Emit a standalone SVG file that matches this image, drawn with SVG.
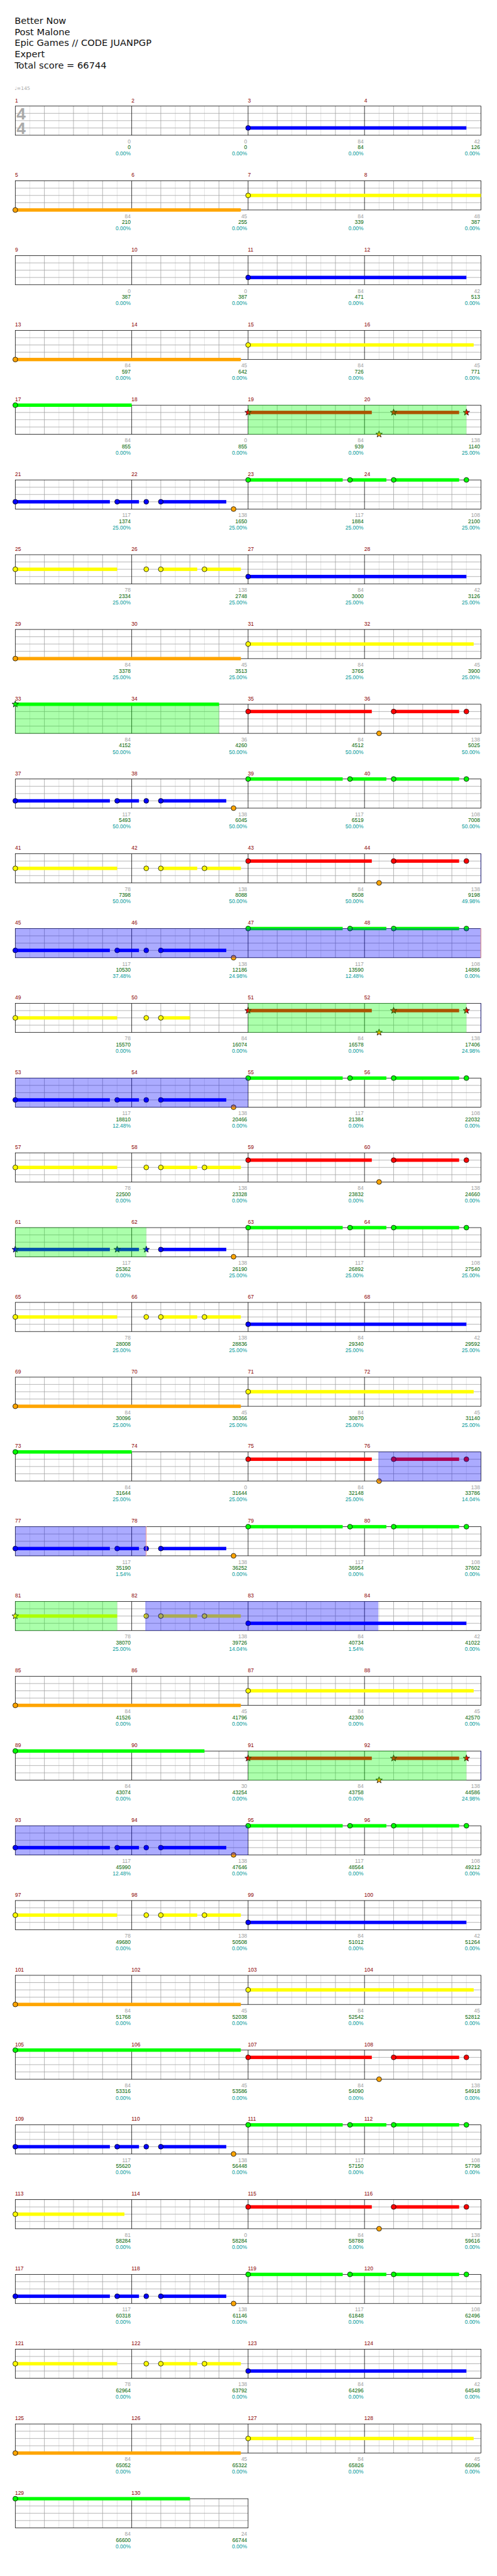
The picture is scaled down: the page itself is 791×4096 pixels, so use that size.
<svg xmlns="http://www.w3.org/2000/svg" xmlns:xlink="http://www.w3.org/1999/xlink" width="791" height="4096" viewBox="0 0 791 4096">
<style>
text{font-family:'Liberation Sans',Arial,sans-serif;font-size:11px}
.hd{font-family:'DejaVu Sans',Verdana,sans-serif;font-size:19px;fill:#111}
.ml{fill:#8b0000}
.g{fill:#a0a0a0;text-anchor:end}
.s{fill:#006400;text-anchor:end}
.p{fill:#009999;text-anchor:end}
.lt{stroke:#dcdcdc;stroke-width:1;fill:none}
.dk{stroke:#a0a0a0;stroke-width:1;fill:none}
.bk{stroke:#000;stroke-width:1;fill:none}
circle{stroke:#000;stroke-width:1}
.G{fill:#00ff00}.R{fill:#ff0000}.Y{fill:#ffff00}.B{fill:#0000ff}.O{fill:#ffa500}
.og{fill:#00ff00;fill-opacity:.33}
.ob{fill:#0000ff;fill-opacity:.33}
.pk{fill:#f0a0a0}
</style>
<defs>
<path id="star" d="M0-7L1.7-2.35L6.66-2.16L2.76 0.9L4.11 5.66L0 2.9L-4.11 5.66L-2.76 0.9L-6.66-2.16L-1.7-2.35Z" stroke="#000" stroke-width="1"/>
<g id="st4">
<rect x="31.5" y="0.5" width="960" height="60" fill="#fff"/>
<path class="lt" d="M61.5 0.5V60.5M121.5 0.5V60.5M181.5 0.5V60.5M241.5 0.5V60.5M301.5 0.5V60.5M361.5 0.5V60.5M421.5 0.5V60.5M481.5 0.5V60.5M541.5 0.5V60.5M601.5 0.5V60.5M661.5 0.5V60.5M721.5 0.5V60.5M781.5 0.5V60.5M841.5 0.5V60.5M901.5 0.5V60.5M961.5 0.5V60.5"/>
<path class="dk" d="M31.5 15.5H991.5M31.5 30.5H991.5M31.5 45.5H991.5M91.5 0.5V60.5M151.5 0.5V60.5M211.5 0.5V60.5M331.5 0.5V60.5M391.5 0.5V60.5M451.5 0.5V60.5M571.5 0.5V60.5M631.5 0.5V60.5M691.5 0.5V60.5M811.5 0.5V60.5M871.5 0.5V60.5M931.5 0.5V60.5"/>
<path class="bk" d="M271.5 0.5V60.5M511.5 0.5V60.5M751.5 0.5V60.5"/>
<rect class="bk" x="31.5" y="0.5" width="960" height="60"/>
</g>
<g id="st2">
<rect x="31.5" y="0.5" width="480" height="60" fill="#fff"/>
<path class="lt" d="M61.5 0.5V60.5M121.5 0.5V60.5M181.5 0.5V60.5M241.5 0.5V60.5M301.5 0.5V60.5M361.5 0.5V60.5M421.5 0.5V60.5M481.5 0.5V60.5"/>
<path class="dk" d="M31.5 15.5H511.5M31.5 30.5H511.5M31.5 45.5H511.5M91.5 0.5V60.5M151.5 0.5V60.5M211.5 0.5V60.5M331.5 0.5V60.5M391.5 0.5V60.5M451.5 0.5V60.5"/>
<path class="bk" d="M271.5 0.5V60.5"/>
<rect class="bk" x="31.5" y="0.5" width="480" height="60"/>
</g>
<g id="pAr">
<rect class="B" x="31.5" y="42" width="195" height="7"/>
<rect class="B" x="241.5" y="42" width="45" height="7"/>
<rect class="B" x="331.5" y="42" width="135" height="7"/>
</g>
<g id="pA">
<use href="#pAr"/>
<circle class="B" cx="31.5" cy="45.5" r="5"/>
<circle class="B" cx="241.5" cy="45.5" r="5"/>
<circle class="B" cx="301.5" cy="45.5" r="5"/>
<circle class="B" cx="331.5" cy="45.5" r="5"/>
<circle class="O" cx="481.5" cy="60.5" r="5"/>
</g>
<g id="pB">
<rect class="G" x="511.5" y="-3" width="195" height="7"/>
<rect class="G" x="721.5" y="-3" width="75" height="7"/>
<rect class="G" x="811.5" y="-3" width="135" height="7"/>
<circle class="G" cx="511.5" cy="0.5" r="5"/>
<circle class="G" cx="721.5" cy="0.5" r="5"/>
<circle class="G" cx="811.5" cy="0.5" r="5"/>
<circle class="G" cx="961.5" cy="0.5" r="5"/>
</g>
<g id="pCr">
<rect class="Y" x="31.5" y="27" width="210" height="7"/>
<rect class="Y" x="331.5" y="27" width="75" height="7"/>
<rect class="Y" x="421.5" y="27" width="75" height="7"/>
</g>
<g id="pC">
<use href="#pCr"/>
<circle class="Y" cx="31.5" cy="30.5" r="5"/>
<circle class="Y" cx="301.5" cy="30.5" r="5"/>
<circle class="Y" cx="331.5" cy="30.5" r="5"/>
<circle class="Y" cx="421.5" cy="30.5" r="5"/>
</g>
<g id="pDr">
<rect class="R" x="511.5" y="12" width="255" height="7"/>
<rect class="R" x="811.5" y="12" width="135" height="7"/>
</g>
<g id="pD">
<use href="#pDr"/>
<circle class="R" cx="511.5" cy="15.5" r="5"/>
<circle class="R" cx="811.5" cy="15.5" r="5"/>
<circle class="R" cx="961.5" cy="15.5" r="5"/>
<circle class="O" cx="781.5" cy="60.5" r="5"/>
</g>
<g id="pDs">
<use href="#pDr"/>
<use href="#star" class="R" x="511.5" y="15.5"/>
<use href="#star" class="R" x="811.5" y="15.5"/>
<use href="#star" class="R" x="961.5" y="15.5"/>
<use href="#star" class="O" x="781.5" y="60.5"/>
</g>
<g id="pE">
<rect class="O" x="31.5" y="57" width="465" height="7"/>
<circle class="O" cx="31.5" cy="60.5" r="5"/>
<rect class="Y" x="511.5" y="27" width="465" height="7"/>
<circle class="Y" cx="511.5" cy="30.5" r="5"/>
</g>
<g id="pF">
<rect class="B" x="511.5" y="42" width="450" height="7"/>
<circle class="B" cx="511.5" cy="45.5" r="5"/>
</g>
</defs>
<rect width="791" height="4096" fill="#fff"/>
<g transform="scale(0.772)">
<g id="header">
<text class="hd" x="30" y="49">Better Now</text>
<text class="hd" x="30" y="72">Post Malone</text>
<text class="hd" x="30" y="95">Epic Games // CODE JUANPGP</text>
<text class="hd" x="30" y="118">Expert</text>
<text class="hd" x="30" y="141">Total score = 66744</text>
<text x="30" y="185" style="font-family:'DejaVu Sans',sans-serif;font-size:10px;fill:#aaa">♩=145</text>
</g>
<g id="r1" transform="translate(0,218)">
<use href="#st4"/>
<text x="34" y="28.5" style="font-size:34px;font-weight:bold;fill:#aaa">4</text>
<text x="34" y="58" style="font-size:34px;font-weight:bold;fill:#aaa">4</text>
<use href="#pF"/>
<text class="ml" y="-7.5"><tspan x="31">1</tspan><tspan x="271">2</tspan><tspan x="511">3</tspan><tspan x="751">4</tspan></text>
<text class="g" y="77"><tspan x="269.5">0</tspan><tspan x="509.5">0</tspan><tspan x="749.5">84</tspan><tspan x="989.5">42</tspan></text>
<text class="s" y="89.5"><tspan x="269.5">0</tspan><tspan x="509.5">0</tspan><tspan x="749.5">84</tspan><tspan x="989.5">126</tspan></text>
<text class="p" y="102.5"><tspan x="269.5">0.00%</tspan><tspan x="509.5">0.00%</tspan><tspan x="749.5">0.00%</tspan><tspan x="989.5">0.00%</tspan></text>
</g>
<g id="r2" transform="translate(0,372)">
<use href="#st4"/>
<rect class="O" x="31.5" y="57" width="465" height="7"/>
<circle class="O" cx="31.5" cy="60.5" r="5"/>
<rect class="Y" x="511.5" y="27" width="480" height="7"/>
<circle class="Y" cx="511.5" cy="30.5" r="5"/>
<text class="ml" y="-7.5"><tspan x="31">5</tspan><tspan x="271">6</tspan><tspan x="511">7</tspan><tspan x="751">8</tspan></text>
<text class="g" y="77"><tspan x="269.5">84</tspan><tspan x="509.5">45</tspan><tspan x="749.5">84</tspan><tspan x="989.5">48</tspan></text>
<text class="s" y="89.5"><tspan x="269.5">210</tspan><tspan x="509.5">255</tspan><tspan x="749.5">339</tspan><tspan x="989.5">387</tspan></text>
<text class="p" y="102.5"><tspan x="269.5">0.00%</tspan><tspan x="509.5">0.00%</tspan><tspan x="749.5">0.00%</tspan><tspan x="989.5">0.00%</tspan></text>
</g>
<g id="r3" transform="translate(0,526)">
<use href="#st4"/>
<use href="#pF"/>
<text class="ml" y="-7.5"><tspan x="31">9</tspan><tspan x="271">10</tspan><tspan x="511">11</tspan><tspan x="751">12</tspan></text>
<text class="g" y="77"><tspan x="269.5">0</tspan><tspan x="509.5">0</tspan><tspan x="749.5">84</tspan><tspan x="989.5">42</tspan></text>
<text class="s" y="89.5"><tspan x="269.5">387</tspan><tspan x="509.5">387</tspan><tspan x="749.5">471</tspan><tspan x="989.5">513</tspan></text>
<text class="p" y="102.5"><tspan x="269.5">0.00%</tspan><tspan x="509.5">0.00%</tspan><tspan x="749.5">0.00%</tspan><tspan x="989.5">0.00%</tspan></text>
</g>
<g id="r4" transform="translate(0,680)">
<use href="#st4"/>
<use href="#pE"/>
<text class="ml" y="-7.5"><tspan x="31">13</tspan><tspan x="271">14</tspan><tspan x="511">15</tspan><tspan x="751">16</tspan></text>
<text class="g" y="77"><tspan x="269.5">84</tspan><tspan x="509.5">45</tspan><tspan x="749.5">84</tspan><tspan x="989.5">45</tspan></text>
<text class="s" y="89.5"><tspan x="269.5">597</tspan><tspan x="509.5">642</tspan><tspan x="749.5">726</tspan><tspan x="989.5">771</tspan></text>
<text class="p" y="102.5"><tspan x="269.5">0.00%</tspan><tspan x="509.5">0.00%</tspan><tspan x="749.5">0.00%</tspan><tspan x="989.5">0.00%</tspan></text>
</g>
<g id="r5" transform="translate(0,834)">
<use href="#st4"/>
<rect class="G" x="31.5" y="-3" width="240" height="7"/>
<circle class="G" cx="31.5" cy="0.5" r="5"/>
<use href="#pDs"/>
<rect class="og" x="511.5" y="0" width="450" height="61"/>
<text class="ml" y="-7.5"><tspan x="31">17</tspan><tspan x="271">18</tspan><tspan x="511">19</tspan><tspan x="751">20</tspan></text>
<text class="g" y="77"><tspan x="269.5">84</tspan><tspan x="509.5">0</tspan><tspan x="749.5">84</tspan><tspan x="989.5">138</tspan></text>
<text class="s" y="89.5"><tspan x="269.5">855</tspan><tspan x="509.5">855</tspan><tspan x="749.5">939</tspan><tspan x="989.5">1140</tspan></text>
<text class="p" y="102.5"><tspan x="269.5">0.00%</tspan><tspan x="509.5">0.00%</tspan><tspan x="749.5">0.00%</tspan><tspan x="989.5">25.00%</tspan></text>
</g>
<g id="r6" transform="translate(0,988)">
<use href="#st4"/>
<use href="#pA"/><use href="#pB"/>
<text class="ml" y="-7.5"><tspan x="31">21</tspan><tspan x="271">22</tspan><tspan x="511">23</tspan><tspan x="751">24</tspan></text>
<text class="g" y="77"><tspan x="269.5">117</tspan><tspan x="509.5">138</tspan><tspan x="749.5">117</tspan><tspan x="989.5">108</tspan></text>
<text class="s" y="89.5"><tspan x="269.5">1374</tspan><tspan x="509.5">1650</tspan><tspan x="749.5">1884</tspan><tspan x="989.5">2100</tspan></text>
<text class="p" y="102.5"><tspan x="269.5">25.00%</tspan><tspan x="509.5">25.00%</tspan><tspan x="749.5">25.00%</tspan><tspan x="989.5">25.00%</tspan></text>
</g>
<g id="r7" transform="translate(0,1142)">
<use href="#st4"/>
<use href="#pC"/><use href="#pF"/>
<text class="ml" y="-7.5"><tspan x="31">25</tspan><tspan x="271">26</tspan><tspan x="511">27</tspan><tspan x="751">28</tspan></text>
<text class="g" y="77"><tspan x="269.5">78</tspan><tspan x="509.5">138</tspan><tspan x="749.5">84</tspan><tspan x="989.5">42</tspan></text>
<text class="s" y="89.5"><tspan x="269.5">2334</tspan><tspan x="509.5">2748</tspan><tspan x="749.5">3000</tspan><tspan x="989.5">3126</tspan></text>
<text class="p" y="102.5"><tspan x="269.5">25.00%</tspan><tspan x="509.5">25.00%</tspan><tspan x="749.5">25.00%</tspan><tspan x="989.5">25.00%</tspan></text>
</g>
<g id="r8" transform="translate(0,1296)">
<use href="#st4"/>
<use href="#pE"/>
<text class="ml" y="-7.5"><tspan x="31">29</tspan><tspan x="271">30</tspan><tspan x="511">31</tspan><tspan x="751">32</tspan></text>
<text class="g" y="77"><tspan x="269.5">84</tspan><tspan x="509.5">45</tspan><tspan x="749.5">84</tspan><tspan x="989.5">45</tspan></text>
<text class="s" y="89.5"><tspan x="269.5">3378</tspan><tspan x="509.5">3513</tspan><tspan x="749.5">3765</tspan><tspan x="989.5">3900</tspan></text>
<text class="p" y="102.5"><tspan x="269.5">25.00%</tspan><tspan x="509.5">25.00%</tspan><tspan x="749.5">25.00%</tspan><tspan x="989.5">25.00%</tspan></text>
</g>
<g id="r9" transform="translate(0,1450)">
<use href="#st4"/>
<rect class="G" x="31.5" y="-3" width="420" height="7"/>
<use href="#star" class="G" x="31.5" y="0.5"/>
<use href="#pD"/>
<rect class="og" x="31.5" y="0" width="420" height="61"/>
<text class="ml" y="-7.5"><tspan x="31">33</tspan><tspan x="271">34</tspan><tspan x="511">35</tspan><tspan x="751">36</tspan></text>
<text class="g" y="77"><tspan x="269.5">84</tspan><tspan x="509.5">36</tspan><tspan x="749.5">84</tspan><tspan x="989.5">138</tspan></text>
<text class="s" y="89.5"><tspan x="269.5">4152</tspan><tspan x="509.5">4260</tspan><tspan x="749.5">4512</tspan><tspan x="989.5">5025</tspan></text>
<text class="p" y="102.5"><tspan x="269.5">50.00%</tspan><tspan x="509.5">50.00%</tspan><tspan x="749.5">50.00%</tspan><tspan x="989.5">50.00%</tspan></text>
</g>
<g id="r10" transform="translate(0,1604)">
<use href="#st4"/>
<use href="#pA"/><use href="#pB"/>
<text class="ml" y="-7.5"><tspan x="31">37</tspan><tspan x="271">38</tspan><tspan x="511">39</tspan><tspan x="751">40</tspan></text>
<text class="g" y="77"><tspan x="269.5">117</tspan><tspan x="509.5">138</tspan><tspan x="749.5">117</tspan><tspan x="989.5">108</tspan></text>
<text class="s" y="89.5"><tspan x="269.5">5493</tspan><tspan x="509.5">6045</tspan><tspan x="749.5">6519</tspan><tspan x="989.5">7008</tspan></text>
<text class="p" y="102.5"><tspan x="269.5">50.00%</tspan><tspan x="509.5">50.00%</tspan><tspan x="749.5">50.00%</tspan><tspan x="989.5">50.00%</tspan></text>
</g>
<g id="r11" transform="translate(0,1758)">
<use href="#st4"/>
<use href="#pC"/><use href="#pD"/>
<rect class="ob" x="990.5" y="0" width="1.5" height="61"/>
<text class="ml" y="-7.5"><tspan x="31">41</tspan><tspan x="271">42</tspan><tspan x="511">43</tspan><tspan x="751">44</tspan></text>
<text class="g" y="77"><tspan x="269.5">78</tspan><tspan x="509.5">138</tspan><tspan x="749.5">84</tspan><tspan x="989.5">138</tspan></text>
<text class="s" y="89.5"><tspan x="269.5">7398</tspan><tspan x="509.5">8088</tspan><tspan x="749.5">8508</tspan><tspan x="989.5">9198</tspan></text>
<text class="p" y="102.5"><tspan x="269.5">50.00%</tspan><tspan x="509.5">50.00%</tspan><tspan x="749.5">50.00%</tspan><tspan x="989.5">49.98%</tspan></text>
</g>
<g id="r12" transform="translate(0,1912)">
<use href="#st4"/>
<use href="#pA"/><use href="#pB"/>
<rect class="ob" x="31.5" y="0" width="960" height="61"/>
<rect class="pk" x="990.5" y="0" width="1.5" height="61"/>
<text class="ml" y="-7.5"><tspan x="31">45</tspan><tspan x="271">46</tspan><tspan x="511">47</tspan><tspan x="751">48</tspan></text>
<text class="g" y="77"><tspan x="269.5">117</tspan><tspan x="509.5">138</tspan><tspan x="749.5">117</tspan><tspan x="989.5">108</tspan></text>
<text class="s" y="89.5"><tspan x="269.5">10530</tspan><tspan x="509.5">12186</tspan><tspan x="749.5">13590</tspan><tspan x="989.5">14886</tspan></text>
<text class="p" y="102.5"><tspan x="269.5">37.48%</tspan><tspan x="509.5">24.98%</tspan><tspan x="749.5">12.48%</tspan><tspan x="989.5">0.00%</tspan></text>
</g>
<g id="r13" transform="translate(0,2066)">
<use href="#st4"/>
<rect class="Y" x="31.5" y="27" width="210" height="7"/>
<rect class="Y" x="331.5" y="27" width="60" height="7"/>
<circle class="Y" cx="31.5" cy="30.5" r="5"/>
<circle class="Y" cx="301.5" cy="30.5" r="5"/>
<circle class="Y" cx="331.5" cy="30.5" r="5"/>
<use href="#pDs"/>
<rect class="og" x="511.5" y="0" width="450" height="61"/>
<rect class="ob" x="990.5" y="0" width="1.5" height="61"/>
<text class="ml" y="-7.5"><tspan x="31">49</tspan><tspan x="271">50</tspan><tspan x="511">51</tspan><tspan x="751">52</tspan></text>
<text class="g" y="77"><tspan x="269.5">78</tspan><tspan x="509.5">84</tspan><tspan x="749.5">84</tspan><tspan x="989.5">138</tspan></text>
<text class="s" y="89.5"><tspan x="269.5">15570</tspan><tspan x="509.5">16074</tspan><tspan x="749.5">16578</tspan><tspan x="989.5">17406</tspan></text>
<text class="p" y="102.5"><tspan x="269.5">0.00%</tspan><tspan x="509.5">0.00%</tspan><tspan x="749.5">0.00%</tspan><tspan x="989.5">24.98%</tspan></text>
</g>
<g id="r14" transform="translate(0,2220)">
<use href="#st4"/>
<use href="#pA"/><use href="#pB"/>
<rect class="ob" x="31.5" y="0" width="480" height="61"/>
<text class="ml" y="-7.5"><tspan x="31">53</tspan><tspan x="271">54</tspan><tspan x="511">55</tspan><tspan x="751">56</tspan></text>
<text class="g" y="77"><tspan x="269.5">117</tspan><tspan x="509.5">138</tspan><tspan x="749.5">117</tspan><tspan x="989.5">108</tspan></text>
<text class="s" y="89.5"><tspan x="269.5">18810</tspan><tspan x="509.5">20466</tspan><tspan x="749.5">21384</tspan><tspan x="989.5">22032</tspan></text>
<text class="p" y="102.5"><tspan x="269.5">12.48%</tspan><tspan x="509.5">0.00%</tspan><tspan x="749.5">0.00%</tspan><tspan x="989.5">0.00%</tspan></text>
</g>
<g id="r15" transform="translate(0,2374)">
<use href="#st4"/>
<use href="#pC"/><use href="#pD"/>
<text class="ml" y="-7.5"><tspan x="31">57</tspan><tspan x="271">58</tspan><tspan x="511">59</tspan><tspan x="751">60</tspan></text>
<text class="g" y="77"><tspan x="269.5">78</tspan><tspan x="509.5">138</tspan><tspan x="749.5">84</tspan><tspan x="989.5">138</tspan></text>
<text class="s" y="89.5"><tspan x="269.5">22500</tspan><tspan x="509.5">23328</tspan><tspan x="749.5">23832</tspan><tspan x="989.5">24660</tspan></text>
<text class="p" y="102.5"><tspan x="269.5">0.00%</tspan><tspan x="509.5">0.00%</tspan><tspan x="749.5">0.00%</tspan><tspan x="989.5">0.00%</tspan></text>
</g>
<g id="r16" transform="translate(0,2528)">
<use href="#st4"/>
<use href="#pAr"/>
<use href="#star" class="B" x="31.5" y="45.5"/>
<use href="#star" class="B" x="241.5" y="45.5"/>
<use href="#star" class="B" x="301.5" y="45.5"/>
<circle class="B" cx="331.5" cy="45.5" r="5"/>
<circle class="O" cx="481.5" cy="60.5" r="5"/>
<use href="#pB"/>
<rect class="og" x="31.5" y="0" width="270" height="61"/>
<text class="ml" y="-7.5"><tspan x="31">61</tspan><tspan x="271">62</tspan><tspan x="511">63</tspan><tspan x="751">64</tspan></text>
<text class="g" y="77"><tspan x="269.5">117</tspan><tspan x="509.5">138</tspan><tspan x="749.5">117</tspan><tspan x="989.5">108</tspan></text>
<text class="s" y="89.5"><tspan x="269.5">25362</tspan><tspan x="509.5">26190</tspan><tspan x="749.5">26892</tspan><tspan x="989.5">27540</tspan></text>
<text class="p" y="102.5"><tspan x="269.5">0.00%</tspan><tspan x="509.5">25.00%</tspan><tspan x="749.5">25.00%</tspan><tspan x="989.5">25.00%</tspan></text>
</g>
<g id="r17" transform="translate(0,2682)">
<use href="#st4"/>
<use href="#pC"/><use href="#pF"/>
<text class="ml" y="-7.5"><tspan x="31">65</tspan><tspan x="271">66</tspan><tspan x="511">67</tspan><tspan x="751">68</tspan></text>
<text class="g" y="77"><tspan x="269.5">78</tspan><tspan x="509.5">138</tspan><tspan x="749.5">84</tspan><tspan x="989.5">42</tspan></text>
<text class="s" y="89.5"><tspan x="269.5">28008</tspan><tspan x="509.5">28836</tspan><tspan x="749.5">29340</tspan><tspan x="989.5">29592</tspan></text>
<text class="p" y="102.5"><tspan x="269.5">25.00%</tspan><tspan x="509.5">25.00%</tspan><tspan x="749.5">25.00%</tspan><tspan x="989.5">25.00%</tspan></text>
</g>
<g id="r18" transform="translate(0,2836)">
<use href="#st4"/>
<use href="#pE"/>
<text class="ml" y="-7.5"><tspan x="31">69</tspan><tspan x="271">70</tspan><tspan x="511">71</tspan><tspan x="751">72</tspan></text>
<text class="g" y="77"><tspan x="269.5">84</tspan><tspan x="509.5">45</tspan><tspan x="749.5">84</tspan><tspan x="989.5">45</tspan></text>
<text class="s" y="89.5"><tspan x="269.5">30096</tspan><tspan x="509.5">30366</tspan><tspan x="749.5">30870</tspan><tspan x="989.5">31140</tspan></text>
<text class="p" y="102.5"><tspan x="269.5">25.00%</tspan><tspan x="509.5">25.00%</tspan><tspan x="749.5">25.00%</tspan><tspan x="989.5">25.00%</tspan></text>
</g>
<g id="r19" transform="translate(0,2990)">
<use href="#st4"/>
<rect class="G" x="31.5" y="-3" width="240" height="7"/>
<circle class="G" cx="31.5" cy="0.5" r="5"/>
<use href="#pD"/>
<rect class="ob" x="780" y="0" width="211.5" height="61"/>
<text class="ml" y="-7.5"><tspan x="31">73</tspan><tspan x="271">74</tspan><tspan x="511">75</tspan><tspan x="751">76</tspan></text>
<text class="g" y="77"><tspan x="269.5">84</tspan><tspan x="509.5">0</tspan><tspan x="749.5">84</tspan><tspan x="989.5">138</tspan></text>
<text class="s" y="89.5"><tspan x="269.5">31644</tspan><tspan x="509.5">31644</tspan><tspan x="749.5">32148</tspan><tspan x="989.5">33786</tspan></text>
<text class="p" y="102.5"><tspan x="269.5">25.00%</tspan><tspan x="509.5">25.00%</tspan><tspan x="749.5">25.00%</tspan><tspan x="989.5">14.04%</tspan></text>
</g>
<g id="r20" transform="translate(0,3144)">
<use href="#st4"/>
<use href="#pA"/><use href="#pB"/>
<rect class="ob" x="31.5" y="0" width="270" height="61"/>
<rect class="pk" x="300.5" y="0" width="1.5" height="61"/>
<text class="ml" y="-7.5"><tspan x="31">77</tspan><tspan x="271">78</tspan><tspan x="511">79</tspan><tspan x="751">80</tspan></text>
<text class="g" y="77"><tspan x="269.5">117</tspan><tspan x="509.5">138</tspan><tspan x="749.5">117</tspan><tspan x="989.5">108</tspan></text>
<text class="s" y="89.5"><tspan x="269.5">35190</tspan><tspan x="509.5">36252</tspan><tspan x="749.5">36954</tspan><tspan x="989.5">37602</tspan></text>
<text class="p" y="102.5"><tspan x="269.5">1.54%</tspan><tspan x="509.5">0.00%</tspan><tspan x="749.5">0.00%</tspan><tspan x="989.5">0.00%</tspan></text>
</g>
<g id="r21" transform="translate(0,3298)">
<use href="#st4"/>
<use href="#pCr"/>
<use href="#star" class="Y" x="31.5" y="30.5"/>
<circle class="Y" cx="301.5" cy="30.5" r="5"/>
<circle class="Y" cx="331.5" cy="30.5" r="5"/>
<circle class="Y" cx="421.5" cy="30.5" r="5"/>
<use href="#pF"/>
<rect class="og" x="31.5" y="0" width="210" height="61"/>
<rect class="ob" x="299.5" y="0" width="480.5" height="61"/>
<text class="ml" y="-7.5"><tspan x="31">81</tspan><tspan x="271">82</tspan><tspan x="511">83</tspan><tspan x="751">84</tspan></text>
<text class="g" y="77"><tspan x="269.5">78</tspan><tspan x="509.5">138</tspan><tspan x="749.5">84</tspan><tspan x="989.5">42</tspan></text>
<text class="s" y="89.5"><tspan x="269.5">38070</tspan><tspan x="509.5">39726</tspan><tspan x="749.5">40734</tspan><tspan x="989.5">41022</tspan></text>
<text class="p" y="102.5"><tspan x="269.5">25.00%</tspan><tspan x="509.5">14.04%</tspan><tspan x="749.5">1.54%</tspan><tspan x="989.5">0.00%</tspan></text>
</g>
<g id="r22" transform="translate(0,3452)">
<use href="#st4"/>
<use href="#pE"/>
<text class="ml" y="-7.5"><tspan x="31">85</tspan><tspan x="271">86</tspan><tspan x="511">87</tspan><tspan x="751">88</tspan></text>
<text class="g" y="77"><tspan x="269.5">84</tspan><tspan x="509.5">45</tspan><tspan x="749.5">84</tspan><tspan x="989.5">45</tspan></text>
<text class="s" y="89.5"><tspan x="269.5">41526</tspan><tspan x="509.5">41796</tspan><tspan x="749.5">42300</tspan><tspan x="989.5">42570</tspan></text>
<text class="p" y="102.5"><tspan x="269.5">0.00%</tspan><tspan x="509.5">0.00%</tspan><tspan x="749.5">0.00%</tspan><tspan x="989.5">0.00%</tspan></text>
</g>
<g id="r23" transform="translate(0,3606)">
<use href="#st4"/>
<rect class="G" x="31.5" y="-3" width="390" height="7"/>
<circle class="G" cx="31.5" cy="0.5" r="5"/>
<use href="#pDs"/>
<rect class="og" x="511.5" y="0" width="450" height="61"/>
<rect class="ob" x="990.5" y="0" width="1.5" height="61"/>
<text class="ml" y="-7.5"><tspan x="31">89</tspan><tspan x="271">90</tspan><tspan x="511">91</tspan><tspan x="751">92</tspan></text>
<text class="g" y="77"><tspan x="269.5">84</tspan><tspan x="509.5">30</tspan><tspan x="749.5">84</tspan><tspan x="989.5">138</tspan></text>
<text class="s" y="89.5"><tspan x="269.5">43074</tspan><tspan x="509.5">43254</tspan><tspan x="749.5">43758</tspan><tspan x="989.5">44586</tspan></text>
<text class="p" y="102.5"><tspan x="269.5">0.00%</tspan><tspan x="509.5">0.00%</tspan><tspan x="749.5">0.00%</tspan><tspan x="989.5">24.98%</tspan></text>
</g>
<g id="r24" transform="translate(0,3760)">
<use href="#st4"/>
<use href="#pA"/><use href="#pB"/>
<rect class="ob" x="31.5" y="0" width="480" height="61"/>
<text class="ml" y="-7.5"><tspan x="31">93</tspan><tspan x="271">94</tspan><tspan x="511">95</tspan><tspan x="751">96</tspan></text>
<text class="g" y="77"><tspan x="269.5">117</tspan><tspan x="509.5">138</tspan><tspan x="749.5">117</tspan><tspan x="989.5">108</tspan></text>
<text class="s" y="89.5"><tspan x="269.5">45990</tspan><tspan x="509.5">47646</tspan><tspan x="749.5">48564</tspan><tspan x="989.5">49212</tspan></text>
<text class="p" y="102.5"><tspan x="269.5">12.48%</tspan><tspan x="509.5">0.00%</tspan><tspan x="749.5">0.00%</tspan><tspan x="989.5">0.00%</tspan></text>
</g>
<g id="r25" transform="translate(0,3914)">
<use href="#st4"/>
<use href="#pC"/><use href="#pF"/>
<text class="ml" y="-7.5"><tspan x="31">97</tspan><tspan x="271">98</tspan><tspan x="511">99</tspan><tspan x="751">100</tspan></text>
<text class="g" y="77"><tspan x="269.5">78</tspan><tspan x="509.5">138</tspan><tspan x="749.5">84</tspan><tspan x="989.5">42</tspan></text>
<text class="s" y="89.5"><tspan x="269.5">49680</tspan><tspan x="509.5">50508</tspan><tspan x="749.5">51012</tspan><tspan x="989.5">51264</tspan></text>
<text class="p" y="102.5"><tspan x="269.5">0.00%</tspan><tspan x="509.5">0.00%</tspan><tspan x="749.5">0.00%</tspan><tspan x="989.5">0.00%</tspan></text>
</g>
<g id="r26" transform="translate(0,4068)">
<use href="#st4"/>
<use href="#pE"/>
<text class="ml" y="-7.5"><tspan x="31">101</tspan><tspan x="271">102</tspan><tspan x="511">103</tspan><tspan x="751">104</tspan></text>
<text class="g" y="77"><tspan x="269.5">84</tspan><tspan x="509.5">45</tspan><tspan x="749.5">84</tspan><tspan x="989.5">45</tspan></text>
<text class="s" y="89.5"><tspan x="269.5">51768</tspan><tspan x="509.5">52038</tspan><tspan x="749.5">52542</tspan><tspan x="989.5">52812</tspan></text>
<text class="p" y="102.5"><tspan x="269.5">0.00%</tspan><tspan x="509.5">0.00%</tspan><tspan x="749.5">0.00%</tspan><tspan x="989.5">0.00%</tspan></text>
</g>
<g id="r27" transform="translate(0,4222)">
<use href="#st4"/>
<rect class="G" x="31.5" y="-3" width="465" height="7"/>
<circle class="G" cx="31.5" cy="0.5" r="5"/>
<use href="#pD"/>
<text class="ml" y="-7.5"><tspan x="31">105</tspan><tspan x="271">106</tspan><tspan x="511">107</tspan><tspan x="751">108</tspan></text>
<text class="g" y="77"><tspan x="269.5">84</tspan><tspan x="509.5">45</tspan><tspan x="749.5">84</tspan><tspan x="989.5">138</tspan></text>
<text class="s" y="89.5"><tspan x="269.5">53316</tspan><tspan x="509.5">53586</tspan><tspan x="749.5">54090</tspan><tspan x="989.5">54918</tspan></text>
<text class="p" y="102.5"><tspan x="269.5">0.00%</tspan><tspan x="509.5">0.00%</tspan><tspan x="749.5">0.00%</tspan><tspan x="989.5">0.00%</tspan></text>
</g>
<g id="r28" transform="translate(0,4376)">
<use href="#st4"/>
<use href="#pA"/><use href="#pB"/>
<text class="ml" y="-7.5"><tspan x="31">109</tspan><tspan x="271">110</tspan><tspan x="511">111</tspan><tspan x="751">112</tspan></text>
<text class="g" y="77"><tspan x="269.5">117</tspan><tspan x="509.5">138</tspan><tspan x="749.5">117</tspan><tspan x="989.5">108</tspan></text>
<text class="s" y="89.5"><tspan x="269.5">55620</tspan><tspan x="509.5">56448</tspan><tspan x="749.5">57150</tspan><tspan x="989.5">57798</tspan></text>
<text class="p" y="102.5"><tspan x="269.5">0.00%</tspan><tspan x="509.5">0.00%</tspan><tspan x="749.5">0.00%</tspan><tspan x="989.5">0.00%</tspan></text>
</g>
<g id="r29" transform="translate(0,4530)">
<use href="#st4"/>
<rect class="Y" x="31.5" y="27" width="225" height="7"/>
<circle class="Y" cx="31.5" cy="30.5" r="5"/>
<use href="#pD"/>
<text class="ml" y="-7.5"><tspan x="31">113</tspan><tspan x="271">114</tspan><tspan x="511">115</tspan><tspan x="751">116</tspan></text>
<text class="g" y="77"><tspan x="269.5">81</tspan><tspan x="509.5">0</tspan><tspan x="749.5">84</tspan><tspan x="989.5">138</tspan></text>
<text class="s" y="89.5"><tspan x="269.5">58284</tspan><tspan x="509.5">58284</tspan><tspan x="749.5">58788</tspan><tspan x="989.5">59616</tspan></text>
<text class="p" y="102.5"><tspan x="269.5">0.00%</tspan><tspan x="509.5">0.00%</tspan><tspan x="749.5">0.00%</tspan><tspan x="989.5">0.00%</tspan></text>
</g>
<g id="r30" transform="translate(0,4684)">
<use href="#st4"/>
<use href="#pA"/><use href="#pB"/>
<text class="ml" y="-7.5"><tspan x="31">117</tspan><tspan x="271">118</tspan><tspan x="511">119</tspan><tspan x="751">120</tspan></text>
<text class="g" y="77"><tspan x="269.5">117</tspan><tspan x="509.5">138</tspan><tspan x="749.5">117</tspan><tspan x="989.5">108</tspan></text>
<text class="s" y="89.5"><tspan x="269.5">60318</tspan><tspan x="509.5">61146</tspan><tspan x="749.5">61848</tspan><tspan x="989.5">62496</tspan></text>
<text class="p" y="102.5"><tspan x="269.5">0.00%</tspan><tspan x="509.5">0.00%</tspan><tspan x="749.5">0.00%</tspan><tspan x="989.5">0.00%</tspan></text>
</g>
<g id="r31" transform="translate(0,4838)">
<use href="#st4"/>
<use href="#pC"/><use href="#pF"/>
<text class="ml" y="-7.5"><tspan x="31">121</tspan><tspan x="271">122</tspan><tspan x="511">123</tspan><tspan x="751">124</tspan></text>
<text class="g" y="77"><tspan x="269.5">78</tspan><tspan x="509.5">138</tspan><tspan x="749.5">84</tspan><tspan x="989.5">42</tspan></text>
<text class="s" y="89.5"><tspan x="269.5">62964</tspan><tspan x="509.5">63792</tspan><tspan x="749.5">64296</tspan><tspan x="989.5">64548</tspan></text>
<text class="p" y="102.5"><tspan x="269.5">0.00%</tspan><tspan x="509.5">0.00%</tspan><tspan x="749.5">0.00%</tspan><tspan x="989.5">0.00%</tspan></text>
</g>
<g id="r32" transform="translate(0,4992)">
<use href="#st4"/>
<use href="#pE"/>
<text class="ml" y="-7.5"><tspan x="31">125</tspan><tspan x="271">126</tspan><tspan x="511">127</tspan><tspan x="751">128</tspan></text>
<text class="g" y="77"><tspan x="269.5">84</tspan><tspan x="509.5">45</tspan><tspan x="749.5">84</tspan><tspan x="989.5">45</tspan></text>
<text class="s" y="89.5"><tspan x="269.5">65052</tspan><tspan x="509.5">65322</tspan><tspan x="749.5">65826</tspan><tspan x="989.5">66096</tspan></text>
<text class="p" y="102.5"><tspan x="269.5">0.00%</tspan><tspan x="509.5">0.00%</tspan><tspan x="749.5">0.00%</tspan><tspan x="989.5">0.00%</tspan></text>
</g>
<g id="r33" transform="translate(0,5146)">
<use href="#st2"/>
<rect class="G" x="31.5" y="-3" width="360" height="7"/>
<circle class="G" cx="31.5" cy="0.5" r="5"/>
<text class="ml" y="-7.5"><tspan x="31">129</tspan><tspan x="271">130</tspan></text>
<text class="g" y="77"><tspan x="269.5">84</tspan><tspan x="509.5">24</tspan></text>
<text class="s" y="89.5"><tspan x="269.5">66600</tspan><tspan x="509.5">66744</tspan></text>
<text class="p" y="102.5"><tspan x="269.5">0.00%</tspan><tspan x="509.5">0.00%</tspan></text>
</g>
</g>
</svg>
